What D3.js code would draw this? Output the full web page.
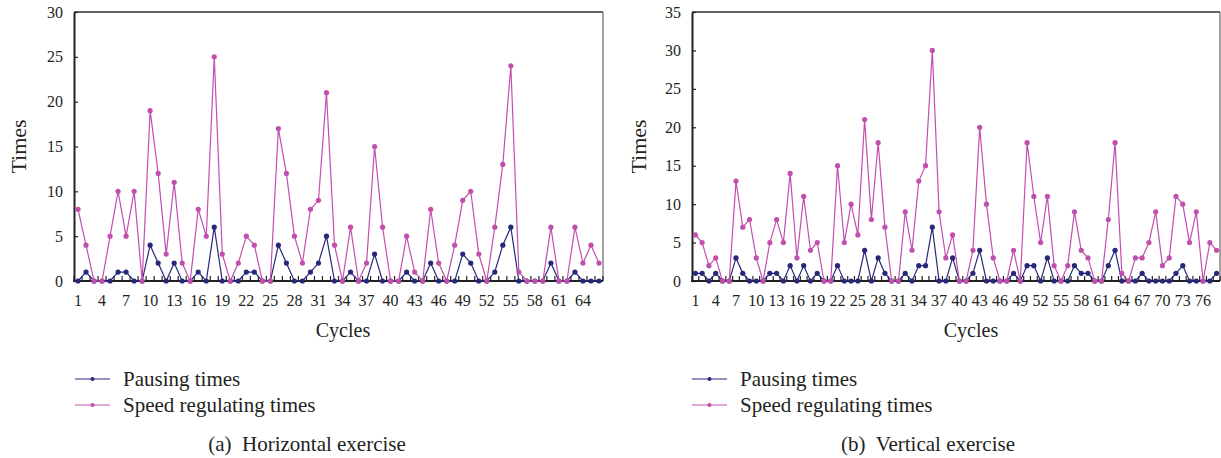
<!DOCTYPE html>
<html>
<head>
<meta charset="utf-8">
<style>
  body { margin: 0; background: #fff; }
  text { font-family: "Liberation Serif", "DejaVu Serif", serif; fill: #231f20; }
</style>
</head>
<body>
<div id="vizDiv"></div>
<script src="https://d3js.org/d3.v7.min.js"></script>
<script>
// (a) horizontal exercise, cycles 1..66
const pauseH = [0,1,0,0,0,1,1,0,0,4,2,0,2,0,0,1,0,6,0,0,0,1,1,0,0,4,2,0,0,1,2,5,0,
                0,1,0,0,3,0,0,0,1,0,0,2,0,0,0,3,2,0,0,1,4,6,0,0,0,0,2,0,0,1,0,0,0];
const speedH = [8,4,0,0,5,10,5,10,0,19,12,3,11,2,0,8,5,25,3,0,2,5,4,0,0,17,12,5,2,8,9,21,4,
                0,6,0,2,15,6,0,0,5,1,0,8,2,0,4,9,10,3,0,6,13,24,1,0,0,0,6,0,0,6,2,4,2];

// (b) vertical exercise, cycles 1..78
const pauseV = [1,1,0,1,0,0,3,1,0,0,0,1,1,0,2,0,2,0,1,0,0,2,0,0,0,4,0,3,1,0,0,1,0,2,2,7,0,0,3,
                0,0,1,4,0,0,0,0,1,0,2,2,0,3,0,0,0,2,1,1,0,0,2,4,0,0,0,1,0,0,0,0,1,2,0,0,0,0,1];
const speedV = [6,5,2,3,0,0,13,7,8,3,0,5,8,5,14,3,11,4,5,0,0,15,5,10,6,21,8,18,7,0,0,9,4,13,15,30,9,3,6,
                0,0,4,20,10,3,0,0,4,0,18,11,5,11,2,0,2,9,4,3,0,0,8,18,1,0,3,3,5,9,2,3,11,10,5,9,0,5,4];

const seriesNames = ["Pausing times", "Speed regulating times"];
const seriesColors = ["#28287a", "#c24fae"];

const panels = [
  { pause: pauseH, speed: speedH, yMax: 30, left: 74, right: 603, ylabelX: 18, cyclesX: 343,
    legendX: 75, caption: "(a)  Horizontal exercise", captionX: 307 },
  { pause: pauseV, speed: speedV, yMax: 35, left: 692, right: 1220, ylabelX: 638, cyclesX: 971,
    legendX: 692, caption: "(b)  Vertical exercise", captionX: 928 }
];

const plotTop = 12, plotBottom = 281;

const svg = d3.select("#vizDiv")
  .append("svg")
  .attr("width", 1221)
  .attr("height", 458);

panels.forEach(p => {
  const n = p.pause.length;
  const cats = d3.range(1, n + 1);

  const x = d3.scaleBand().domain(cats).range([p.left, p.right]);
  const y = d3.scaleLinear().domain([0, p.yMax]).range([plotBottom, plotTop]);

  const g = svg.append("g");

  // frame: top and right
  g.append("line").attr("x1", p.left).attr("x2", p.right).attr("y1", plotTop).attr("y2", plotTop)
    .attr("stroke", "#333").attr("stroke-width", 1.5);
  g.append("line").attr("x1", p.right).attr("x2", p.right).attr("y1", plotTop).attr("y2", plotBottom)
    .attr("stroke", "#666").attr("stroke-width", 1.2);

  // y axis
  const yAxis = g.append("g")
    .attr("transform", `translate(${p.left},0)`)
    .call(d3.axisLeft(y).tickValues(d3.range(0, p.yMax + 1, 5)).tickSizeInner(-4).tickSizeOuter(0).tickPadding(11));
  yAxis.select(".domain").attr("stroke", "#222").attr("stroke-width", 2);
  yAxis.selectAll(".tick line").attr("stroke", "#222").attr("stroke-width", 1.2);
  yAxis.selectAll(".tick text").style("font-size", "16px").attr("fill", "#231f20");

  // x axis: ticks at band edges, labels every third cycle
  const xg = g.append("g");
  xg.selectAll("line.tk")
    .data(cats.concat([n + 1]))
    .enter().append("line")
    .attr("class", "tk")
    .attr("x1", d => d <= n ? x(d) : p.right)
    .attr("x2", d => d <= n ? x(d) : p.right)
    .attr("y1", plotBottom).attr("y2", plotBottom - 5)
    .attr("stroke", "#222").attr("stroke-width", 1.2);
  xg.append("line")
    .attr("x1", p.left - 1).attr("x2", p.right)
    .attr("y1", plotBottom).attr("y2", plotBottom)
    .attr("stroke", "#222").attr("stroke-width", 2);
  xg.selectAll("text")
    .data(cats.filter(d => (d - 1) % 3 === 0))
    .enter().append("text")
    .attr("x", d => x(d) + x.bandwidth() / 2)
    .attr("y", 306)
    .attr("text-anchor", "middle")
    .style("font-size", "16px")
    .text(d => d);

  // titles
  g.append("text")
    .attr("transform", `translate(${p.ylabelX},${(plotTop + plotBottom) / 2}) rotate(-90)`)
    .attr("text-anchor", "middle")
    .attr("dy", "0.35em")
    .style("font-size", "22px")
    .text("Times");
  g.append("text")
    .attr("x", p.cyclesX)
    .attr("y", 337)
    .attr("text-anchor", "middle")
    .style("font-size", "20px")
    .text("Cycles");

  // lines and markers
  const line = d3.line()
    .x((d, i) => x(i + 1) + x.bandwidth() / 2)
    .y(d => y(d));

  [p.pause, p.speed].forEach((vals, k) => {
    g.append("path")
      .datum(vals)
      .attr("fill", "none")
      .attr("stroke", seriesColors[k])
      .attr("stroke-width", 1.2)
      .attr("d", line);
    g.selectAll(null)
      .data(vals)
      .enter().append("circle")
      .attr("cx", (d, i) => x(i + 1) + x.bandwidth() / 2)
      .attr("cy", d => y(d))
      .attr("r", 2.6)
      .attr("fill", seriesColors[k]);
  });

  // legend
  seriesNames.forEach((name, k) => {
    const ly = 379 + k * 26;
    g.append("line")
      .attr("x1", p.legendX).attr("x2", p.legendX + 35)
      .attr("y1", ly).attr("y2", ly)
      .attr("stroke", seriesColors[k]).attr("stroke-width", 1.2);
    g.append("circle")
      .attr("cx", p.legendX + 17.5).attr("cy", ly).attr("r", 2)
      .attr("fill", seriesColors[k]);
    g.append("text")
      .attr("x", p.legendX + 48)
      .attr("y", ly)
      .attr("dy", "0.35em")
      .style("font-size", "21px")
      .text(name);
  });

  // caption
  g.append("text")
    .attr("x", p.captionX)
    .attr("y", 451)
    .attr("text-anchor", "middle")
    .style("font-size", "21px")
    .style("white-space", "pre")
    .text(p.caption);
});
</script>
</body>
</html>
